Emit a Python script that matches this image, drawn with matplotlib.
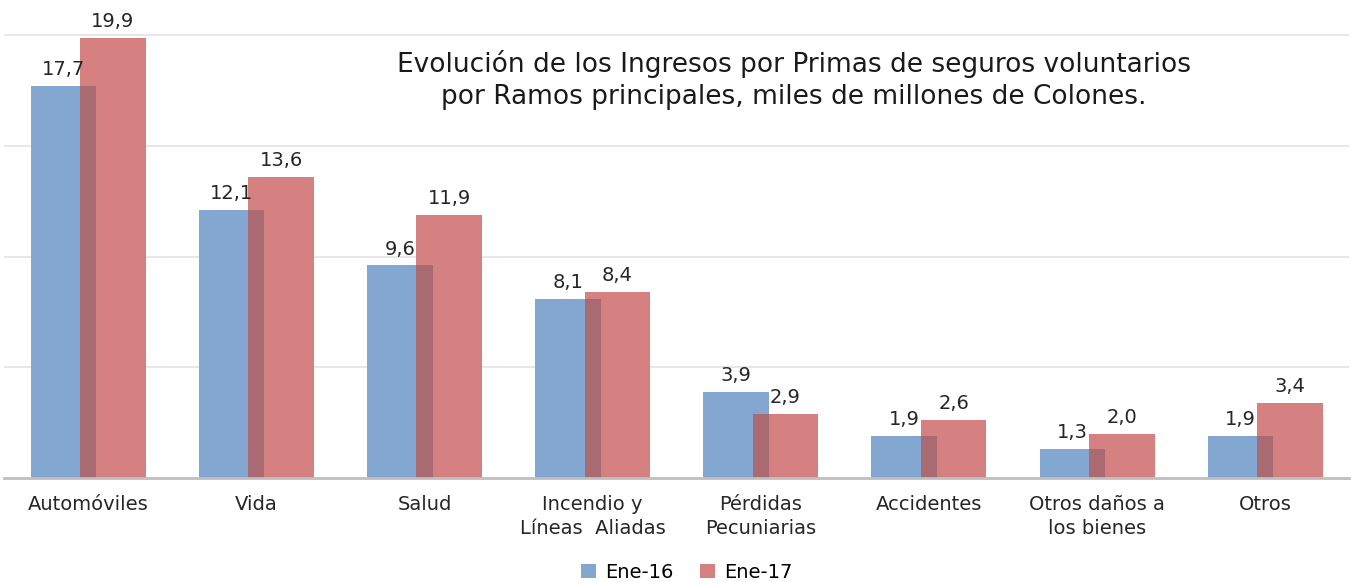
import matplotlib
matplotlib.use("Agg")
import matplotlib.pyplot as plt
import numpy as np

categories = ["Automóviles", "Vida", "Salud", "Incendio y\nLíneas  Aliadas", "Pérdidas\nPecuniarias",
              "Accidentes", "Otros daños a\nlos bienes", "Otros"]
ene16 = [17.7, 12.1, 9.6, 8.1, 3.9, 1.9, 1.3, 1.9]
ene17 = [19.9, 13.6, 11.9, 8.4, 2.9, 2.6, 2.0, 3.4]
series_names = ["Ene-16", "Ene-17"]

BLUE = "#84A7D2"
RED = "#D58081"
OVERLAP = "#AA6A72"
TXT = "#262626"

plt.rcParams["font.family"] = ["DejaVu Sans"]

fig = plt.figure(figsize=(13.52, 5.82), dpi=100)
ax = fig.add_axes([0.003, 0.179, 0.995, 0.821])

x = np.arange(len(categories))
w = 0.39
off = 0.147
a = np.array(ene16)
b = np.array(ene17)

ax.bar(x - off, a, w, color=BLUE, zorder=2, label=series_names[0])
ax.bar(x + off, b, w, color=RED, zorder=2, label=series_names[1])
# darker band where the two bars overlap
ov_left = x + off - w / 2
ov_right = x - off + w / 2
ax.bar((ov_left + ov_right) / 2, np.minimum(a, b), ov_right - ov_left, color=OVERLAP, zorder=3)

for xs, vals in ((x - off, a), (x + off, b)):
    for xi, v in zip(xs, vals):
        ax.annotate(f"{v:.1f}".replace(".", ","), (xi, v), xytext=(0, 5), textcoords="offset points",
                    ha="center", va="bottom", fontsize=14, color=TXT)

ax.set_xlim(-0.5, len(categories) - 0.5)
ax.set_ylim(0, 21.6)
ax.set_yticks([5, 10, 15, 20])
ax.yaxis.grid(True, color="#E3E3E3", linewidth=1.2, zorder=0)
ax.tick_params(axis="y", left=False, labelleft=False)
ax.tick_params(axis="x", bottom=False, pad=9)
ax.set_xticks(x)
ax.set_xticklabels(categories, fontsize=14, color=TXT, linespacing=1.3)
for side in ("top", "right", "left"):
    ax.spines[side].set_visible(False)
ax.spines["bottom"].set_color("#BFBFBF")
ax.spines["bottom"].set_linewidth(2)
ax.spines["bottom"].set_zorder(4)

ax.text(0.587, 0.833, "Evolución de los Ingresos por Primas de seguros voluntarios\n"
        "por Ramos principales, miles de millones de Colones.",
        transform=ax.transAxes, ha="center", va="center", fontsize=19, color="#1a1a1a",
        linespacing=1.32)

fig.legend(loc="lower center", bbox_to_anchor=(0.508, -0.03), ncol=2, frameon=False, fontsize=14,
           handlelength=0.75, handleheight=0.75, handletextpad=0.45, columnspacing=1.4)

fig.savefig("out.png", dpi=100)
